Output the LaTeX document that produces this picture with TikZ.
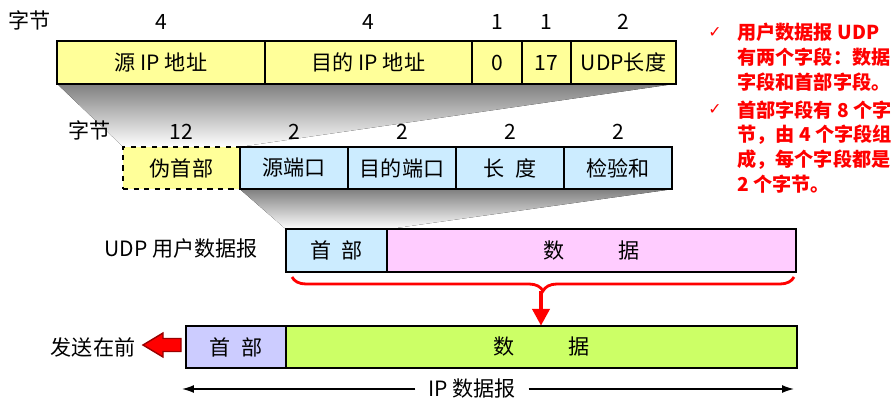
\documentclass[tikz,border=0pt]{standalone}
\usepackage{fontspec}
\setmainfont{Noto Sans CJK SC}
\newfontfamily\checkfont{DejaVu Sans}
\usetikzlibrary{arrows.meta,decorations.pathreplacing,backgrounds}

\definecolor{ipyellow}{HTML}{FFFF99}
\definecolor{udpblue}{HTML}{CCECFF}
\definecolor{datapink}{HTML}{FFCCFF}
\definecolor{hdrlilac}{HTML}{CCCCFF}
\definecolor{datagreen}{HTML}{CCFF66}
\definecolor{shade}{HTML}{F2F2F2}
\definecolor{notered}{HTML}{FF0000}
\definecolor{darkred}{HTML}{990000}

\begin{document}
\begin{tikzpicture}[x=0.02cm, y=-0.02cm,
    every node/.style={font=\fontsize{12}{14}\selectfont},
    field/.style={draw, line width=0.6pt, outer sep=0pt, inner sep=0pt, minimum height=0.85cm, minimum width=#1*0.02cm},
    frame/.style={draw, line width=1.2pt},
    note/.style={anchor=north west, align=left, inner sep=0pt, text=notered, font=\fontsize{10.9}{14.2}\selectfont\bfseries},
    tick/.style={text=notered, inner sep=0pt, font=\checkfont\fontsize{9}{9}\selectfont},
    redbrace/.style={draw=notered, line width=1.6pt, decorate, decoration={brace, mirror, amplitude=0.28cm}},
    redarrow/.style={draw=notered, line width=2.6pt, -{Triangle[width=0.34cm, length=0.34cm]}},
    sendarrow/.style={fill=notered, draw=darkred, line width=0.8pt, line join=miter},
    span/.style={line width=0.8pt, -{Latex[length=0.24cm, width=0.16cm]}}
]
    \useasboundingbox (0,0) rectangle (894,400);

    % pseudo header (12 bytes)
    \node[field=208, fill=ipyellow] (srcip) at (161,62.5) {源 IP 地址};
    \node[field=207, fill=ipyellow] (dstip) at (368.5,62.5) {目的 IP 地址};
    \node[field=50, fill=ipyellow] (zero) at (497,62.5) {0};
    \node[field=49, fill=ipyellow] (proto) at (546.5,62.5) {17};
    \node[field=105, fill=ipyellow] (udplen) at (623.5,62.5) {UDP长度};
    \draw[frame] (srcip.north west) rectangle (udplen.south east);
    \node (bytes1) at (30,20) {字节};
    \foreach \f/\n in {srcip/4, dstip/4, zero/1, proto/1, udplen/2}
        \node (n\f) at (\f.north |- 0,22) {\n};

    % UDP header (8 bytes)
    \node[field=117, fill=ipyellow, dashed, line width=1.2pt] (pseudo) at (181.5,168) {伪首部};
    \node[field=108, fill=udpblue] (srcport) at (294,168) {源端口};
    \node[field=108, fill=udpblue] (dstport) at (402,168) {目的端口};
    \node[field=108, fill=udpblue] (length) at (510,168) {长\hspace{0.5em}度};
    \node[field=108, fill=udpblue] (checksum) at (618,168) {检验和};
    \draw[frame] (srcport.north west) rectangle (checksum.south east);
    \node (bytes2) at (90,130) {字节};
    \foreach \f/\n in {pseudo/12, srcport/2, dstport/2, length/2, checksum/2}
        \node (n\f) at (\f.north |- 0,132) {\n};

    % UDP datagram
    \node (udplabel) at (181,248) {UDP 用户数据报};
    \node[field=101, fill=udpblue] (udphdr) at (336.5,250.5) {首\hspace{0.5em}部};
    \node[field=409, fill=datapink] (udpdata) at (591.5,250.5) {数\hspace{2.6em}据};
    \draw[frame] (udphdr.north west) rectangle (udpdata.south east);

    % IP datagram
    \node[field=100, fill=hdrlilac] (iphdr) at (236,347) {首\hspace{0.5em}部};
    \node[field=511, fill=datagreen] (ipdata) at (541.5,347) {数\hspace{2.6em}据};
    \draw[frame] (iphdr.north west) rectangle (ipdata.south east);

    \begin{scope}[on background layer]
        \fill[shade] (srcip.south west) -- (udplen.south east) -- (pseudo.north east) -- (pseudo.north west) -- cycle;
        \fill[shade] (srcport.south west) -- (checksum.south east) -- (udphdr.north east) -- (udphdr.north west) -- cycle;
    \end{scope}

    % brace and arrow down
    \coordinate (braceL) at (292,277);
    \coordinate (braceR) at (794,277);
    \coordinate (bracetip) at (541,291);
    \draw[redbrace] (braceL) -- (braceR);
    \draw[redarrow] (bracetip) -- (bracetip |- ipdata.north);

    % sent first
    \coordinate (send) at (143,345);
    \draw[sendarrow] (send) -- ++(20,-12) -- ++(0,5.5) -- ++(18,0) -- ++(0,13) -- ++(-18,0) -- ++(0,5.5) -- cycle;
    \node (sendlabel) at (93,347) {发送在前};

    % IP datagram span
    \coordinate (ipL) at (182,389);
    \coordinate (ipR) at (794,389);
    \node[fill=white, inner xsep=0.25cm, inner ysep=0pt] (iplabel) at (472,389) {IP 数据报};
    \draw[span] (iplabel) -- (ipL);
    \draw[span] (iplabel) -- (ipR);

    % notes
    \node[note] (note1) at (737,23) {用户数据报 UDP\\有两个字段：数据\\字段和首部字段。};
    \node[note] (note2) at (737,100) {首部字段有 8 个字\\节，由 4 个字段组\\成，每个字段都是\\2 个字节。};
    \node[tick] (tick1) at (715,33) {✓};
    \node[tick] (tick2) at (715,110) {✓};
\end{tikzpicture}
\end{document}
